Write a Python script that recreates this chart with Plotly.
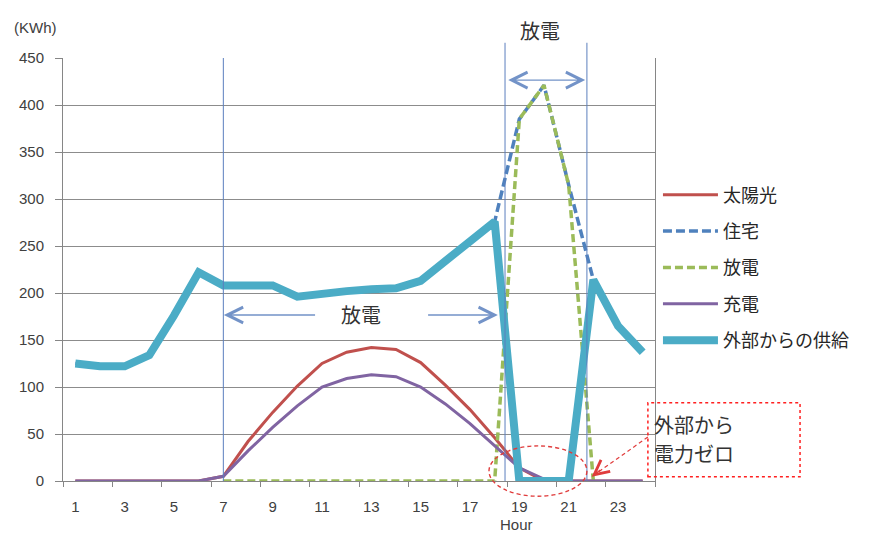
import plotly.graph_objects as go

# Hourly energy balance (kWh)
hours = list(range(1, 25))
x_tick_vals = list(range(1, 24, 2))
y_tick_vals = list(range(0, 451, 50))

solar = [0, 0, 0, 0, 0, 0, 5, 42, 73, 101, 125, 137, 142, 140, 126, 102, 76, 46, 14, 0, 0, 0, 0, 0]
house = [125, 122, 122, 134, 176, 222, 208, 208, 208, 196, 200, 202, 204, 205, 213, 235, 255, 276,
         385, 421, 315, 214, 165, 137]
discharge = [None, None, None, None, None, None, 0, 0, 0, 0, 0, 0, 0, 0, 0, 0, 0, 0,
             385, 421, 315, 0, None, None]
charge = [0, 0, 0, 0, 0, 0, 5, 32, 57, 80, 100, 109, 113, 111, 100, 82, 61, 38, 14, 2, 0, 0, 0, 0]
grid_supply = [125, 122, 122, 134, 176, 222, 208, 208, 208, 196, 200, 202, 204, 205, 213, 235, 255, 276,
               0, 0, 0, 214, 165, 137]

# Marker hours for the discharge windows
day_start = 7.0
evening_start = 18.42
evening_end = 21.74

JP = "Noto Sans CJK JP"
NUM = "Liberation Sans, Arial, sans-serif"

fig = go.Figure()

series = [
    ("太陽光", solar, dict(color="#C0504D", width=3)),
    ("住宅", house, dict(color="#4F81BD", width=3.5, dash="9px,4px")),
    ("放電", discharge, dict(color="#9BBB59", width=3.5, dash="8px,4px")),
    ("充電", charge, dict(color="#8064A2", width=3)),
    ("外部からの供給", grid_supply, dict(color="#4BACC6", width=8)),
]
for name, vals, line in series:
    fig.add_trace(go.Scatter(
        x=hours, y=vals, name=name, mode="lines", line=line,
        legendgroup=name, connectgaps=False,
    ))

shapes = []
# white patch behind the upper label
shapes.append(dict(type="rect", xref="x", yref="paper", x0=evening_start, x1=evening_end,
                   y0=0.995, y1=1.2, fillcolor="white", line=dict(width=0), layer="above"))
# vertical window markers
shapes.append(dict(type="line", xref="x", yref="paper", x0=day_start, x1=day_start, y0=0, y1=1,
                   line=dict(color="#5B7FBE", width=1), layer="above"))
for xv in (evening_start, evening_end):
    shapes.append(dict(type="line", xref="x", yref="paper", x0=xv, x1=xv, y0=0, y1=1.036,
                       line=dict(color="#5B7FBE", width=1), layer="above"))
# dashed ellipse around the zero-supply period
shapes.append(dict(type="circle", xref="x", yref="paper", x0=17.77, x1=21.74, y0=-0.036, y1=0.083,
                   line=dict(color="#E03C3C", width=1.4, dash="4px,3px"), layer="above"))
# callout box
shapes.append(dict(type="rect", xref="paper", yref="paper", x0=0.988, x1=1.245, y0=0.01, y1=0.185,
                   line=dict(color="#FF2020", width=1.5, dash="dot"), layer="above"))
# dashed leader from the callout
shapes.append(dict(type="line", xref="paper", yref="paper", x0=0.988, y0=0.104, x1=0.893, y1=0.01,
                   line=dict(color="#E03C3C", width=1.2, dash="4px,3px"), layer="above"))

arrow_col = "#7393C8"
annotations = [
    dict(text="(KWh)", xref="paper", yref="paper", x=-0.046, y=1.073, xanchor="center",
         yanchor="middle", showarrow=False,
         font=dict(family=NUM, size=15, color="#404040")),
    dict(text="Hour", xref="x", yref="paper", x=18.9, y=-0.104, xanchor="center",
         yanchor="middle", showarrow=False,
         font=dict(family=NUM, size=15, color="#404040")),
    dict(text="放電", xref="x", yref="paper", x=19.84, y=1.064, xanchor="center",
         yanchor="middle", showarrow=False,
         font=dict(family=JP, size=20, color="#333333")),
    dict(text="放電", xref="x", yref="y", x=12.58, y=177.5, xanchor="center",
         yanchor="middle", showarrow=False,
         font=dict(family=JP, size=20, color="#333333")),
    # double arrow across the evening window
    dict(text="", xref="x", yref="y", x=evening_end - 0.07, y=426.5, axref="x", ayref="y",
         ax=evening_start + 0.07, ay=426.5, showarrow=True, arrowside="end+start",
         arrowhead=5, startarrowhead=5, arrowsize=2.4, startarrowsize=2.4, arrowwidth=1.3,
         arrowcolor=arrow_col),
    # daytime arrows on either side of the label
    dict(text="", xref="x", yref="y", x=day_start + 0.02, y=176.6, axref="x", ayref="y",
         ax=10.78, ay=176.6, showarrow=True, arrowhead=5, arrowsize=2.4, arrowwidth=1.3,
         arrowcolor=arrow_col),
    dict(text="", xref="x", yref="y", x=18.13, y=176.6, axref="x", ayref="y",
         ax=15.24, ay=176.6, showarrow=True, arrowhead=5, arrowsize=2.4, arrowwidth=1.3,
         arrowcolor=arrow_col),
    # callout text (two lines) and arrow tip
    dict(text="外部から", xref="paper", yref="paper", x=0.995, y=0.133,
         xanchor="left", yanchor="middle", align="left", showarrow=False,
         font=dict(family=JP, size=20, color="#333333")),
    dict(text="電力ゼロ", xref="paper", yref="paper", x=0.995, y=0.066,
         xanchor="left", yanchor="middle", align="left", showarrow=False,
         font=dict(family=JP, size=20, color="#333333")),
    dict(text="", xref="paper", yref="paper", x=0.893, y=0.01, ax=10, ay=-8,
         showarrow=True, arrowhead=5, arrowsize=2.4, arrowwidth=1.2, arrowcolor="#E03C3C"),
]

fig.update_layout(
    width=895, height=535, autosize=False,
    margin=dict(l=63, r=240, t=58, b=54),
    paper_bgcolor="white", plot_bgcolor="white",
    shapes=shapes, annotations=annotations,
    showlegend=True,
    legend=dict(x=1.005, xanchor="left", y=0.72, yanchor="top",
                font=dict(family=JP, size=18, color="#262626"),
                tracegroupgap=10, itemwidth=55, bgcolor="rgba(0,0,0,0)"),
    xaxis=dict(range=[0.5, 24.5], tickmode="array", tickvals=x_tick_vals,
               ticktext=[str(v) for v in x_tick_vals], ticks="", showgrid=False,
               showline=True, linecolor="#868686", linewidth=1, zeroline=False,
               ticklabelstandoff=12,
               tickfont=dict(family=NUM, size=15, color="#404040"),
               minor=dict(ticks="outside", tick0=0.5, dtick=2, ticklen=5, tickcolor="#868686",
                          showgrid=False)),
    yaxis=dict(range=[0, 450], tickmode="array", tickvals=y_tick_vals,
               ticks="outside", ticklen=7, tickcolor="#868686", ticklabelstandoff=8,
               showgrid=True, gridcolor="#8C8C8C", gridwidth=1,
               showline=True, linecolor="#868686", linewidth=1, mirror=True, zeroline=False,
               tickfont=dict(family=NUM, size=15, color="#404040")),
)

fig.write_html("out.html")
